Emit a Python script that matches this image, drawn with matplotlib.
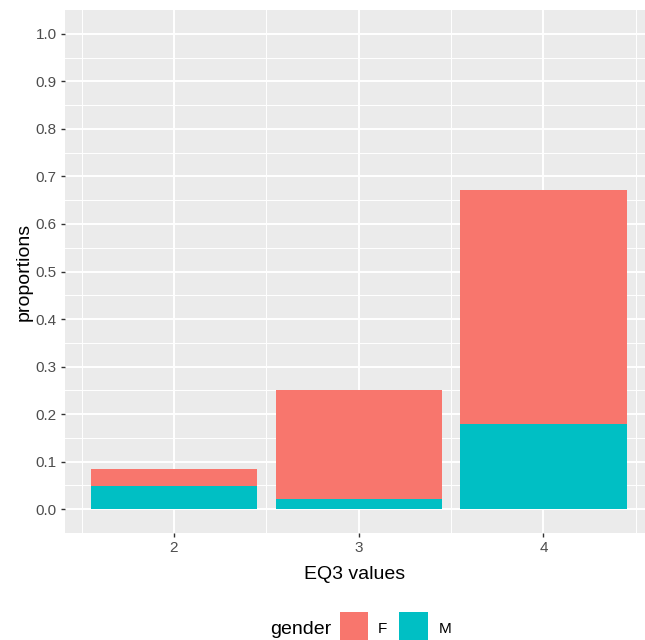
import matplotlib
matplotlib.use("Agg")
import matplotlib.pyplot as plt
from matplotlib.patches import Rectangle
import numpy as np

# data
eq3_values = [2, 3, 4]
prop_m = [0.048, 0.022, 0.180]
prop_f = [0.036, 0.229, 0.491]
genders = ["F", "M"]
colors = {"F": "#F8766D", "M": "#00BFC4"}

plt.rcParams["font.family"] = ["Liberation Sans", "DejaVu Sans"]

W, H = 645, 640
fig = plt.figure(figsize=(W / 100, H / 100), dpi=100)
ax = fig.add_axes([65 / W, 1 - 533 / H, 580 / W, 523 / H])
ax.set_facecolor("#EBEBEB")

ax.bar(eq3_values, prop_m, width=0.9, color=colors["M"], zorder=3)
ax.bar(eq3_values, prop_f, width=0.9, bottom=prop_m, color=colors["F"], zorder=3)

ax.set_xlim(1.41, 4.55)
ax.set_ylim(-0.05, 1.05)
ax.set_xticks(eq3_values)
ax.set_xticks([1.5, 2.5, 3.5, 4.5], minor=True)
yt = np.round(np.arange(0, 1.01, 0.1), 1)
ax.set_yticks(yt)
ax.set_yticklabels([f"{v:.1f}" for v in yt])
ax.set_yticks(np.arange(0.05, 1.0, 0.1), minor=True)

ax.grid(True, which="major", color="white", linewidth=1.4, zorder=0)
ax.grid(True, which="minor", color="white", linewidth=0.7, zorder=0)
ax.set_axisbelow(True)
for s in ax.spines.values():
    s.set_visible(False)
ax.tick_params(which="major", length=3, width=1, color="#333333",
               labelcolor="#4D4D4D", labelsize=11, pad=3)
ax.tick_params(which="minor", length=0)

ax.set_xlabel("EQ3 values", fontsize=14, color="black", labelpad=8)
ax.set_ylabel("proportions", fontsize=14, color="black", labelpad=2)

# legend at the bottom, ggplot style
ky0 = 1 - 640 / H
kh = 28 / H
fig.text(270 / W, 1 - 629 / H, "gender", fontsize=14, va="center", ha="left")
fig.patches.append(Rectangle((340 / W, ky0), 28 / W, kh, transform=fig.transFigure,
                             facecolor=colors["F"], edgecolor="none"))
fig.text(378 / W, 1 - 629 / H, "F", fontsize=11, va="center", ha="left")
fig.patches.append(Rectangle((399 / W, ky0), 29 / W, kh, transform=fig.transFigure,
                             facecolor=colors["M"], edgecolor="none"))
fig.text(439 / W, 1 - 629 / H, "M", fontsize=11, va="center", ha="left")

fig.savefig("out.png", dpi=100, facecolor="white")
